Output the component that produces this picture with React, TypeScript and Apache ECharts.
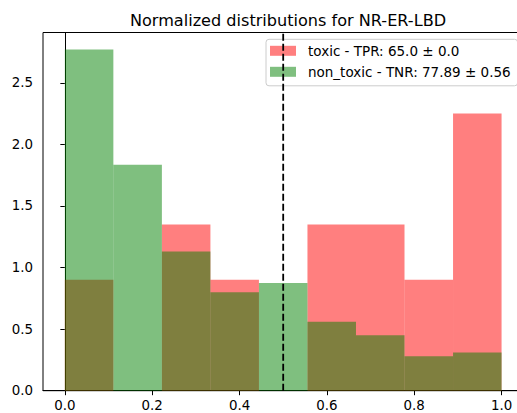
import React, { useEffect, useRef } from "react";
import * as echarts from "echarts";

// Histogram bin edges (9 equal bins on [0, 1])
const binEdges = [0, 1 / 9, 2 / 9, 3 / 9, 4 / 9, 5 / 9, 6 / 9, 7 / 9, 8 / 9, 1];

// Normalised densities per bin
const toxicDensity = [0.9, 0, 1.35, 0.9, 0, 1.35, 1.35, 0.9, 2.25];
const nonToxicDensity = [2.77, 1.835, 1.13, 0.8, 0.875, 0.56, 0.45, 0.28, 0.31];

const toxicName = "toxic - TPR: 65.0 ± 0.0";
const nonToxicName = "non_toxic - TNR: 77.89 ± 0.56";

const threshold = 0.5;
const xTicks = [0, 0.2, 0.4, 0.6, 0.8, 1.0];
const yTicks = [0, 0.5, 1.0, 1.5, 2.0, 2.5];

const RED = "rgba(255,0,0,0.5)";
const GREEN = "rgba(0,128,0,0.5)";
const FONT = "DejaVu Sans";

function binsData(values: number[]) {
  return values.map((v, i) => [binEdges[i], binEdges[i + 1], v]);
}

function histSeries(name: string, values: number[], color: string) {
  return {
    type: "custom",
    name,
    itemStyle: { color },
    encode: { x: [0, 1], y: 2 },
    data: binsData(values),
    renderItem: (params: any, api: any) => {
      const x0 = api.value(0);
      const x1 = api.value(1);
      const y = api.value(2);
      const p0 = api.coord([x0, y]);
      const p1 = api.coord([x1, 0]);
      return {
        type: "rect",
        shape: { x: p0[0], y: p0[1], width: p1[0] - p0[0], height: p1[1] - p0[1] },
        style: { fill: color },
      };
    },
  };
}

export default function App() {
  const ref = useRef<HTMLDivElement>(null);

  useEffect(() => {
    document.body.style.margin = "0";
    if (!ref.current) return;
    const chart = echarts.init(ref.current, null, { renderer: "svg" });
    const yMax = Math.max(...nonToxicDensity, ...toxicDensity) * 1.05;
    chart.setOption({
      animation: false,
      backgroundColor: "#fff",
      textStyle: { fontFamily: FONT },
      title: {
        text: "Normalized distributions for NR-ER-LBD",
        left: 283,
        textAlign: "center",
        top: 7,
        textStyle: { fontFamily: FONT, fontSize: 16.1, fontWeight: "normal", color: "#000" },
      },
      grid: {
        left: 43,
        top: 32.5,
        width: 480.4,
        height: 358.2,
        outerBoundsMode: "none",
        containLabel: false,
        show: true,
        borderColor: "#000",
        borderWidth: 1,
        backgroundColor: "transparent",
      },
      legend: {
        orient: "vertical",
        left: 266,
        top: 39.3,
        data: [toxicName, nonToxicName],
        icon: "rect",
        itemWidth: 26,
        itemHeight: 10,
        itemGap: 6,
        padding: [4, 7, 6.5, 4],
        backgroundColor: "rgba(255,255,255,0.8)",
        borderColor: "#ccc",
        borderWidth: 1,
        borderRadius: 3,
        textStyle: {
          fontFamily: FONT,
          fontSize: 13.5,
          color: "#000",
          lineHeight: 15,
          padding: [0, 0, 0, 7],
        },
      },
      xAxis: {
        type: "value",
        min: -0.05,
        max: 1.05,
        splitLine: { show: false },
        axisLine: { show: true, onZero: false, lineStyle: { color: "#000", width: 1 } },
        axisTick: {
          show: true,
          length: 4.5,
          lineStyle: { color: "#000", width: 1 },
          customValues: xTicks,
        },
        axisLabel: {
          fontFamily: FONT,
          fontSize: 13.4,
          color: "#000",
          margin: 8,
          customValues: xTicks,
          formatter: (v: number) => v.toFixed(1),
        },
      },
      yAxis: {
        type: "value",
        min: 0,
        max: yMax,
        splitLine: { show: false },
        axisLine: { show: true, lineStyle: { color: "#000", width: 1 } },
        axisTick: {
          show: true,
          length: 4.5,
          lineStyle: { color: "#000", width: 1 },
          customValues: yTicks,
        },
        axisLabel: {
          fontFamily: FONT,
          fontSize: 13.4,
          color: "#000",
          margin: 10,
          customValues: yTicks,
          formatter: (v: number) => v.toFixed(1),
        },
      },
      series: [
        histSeries(toxicName, toxicDensity, RED),
        histSeries(nonToxicName, nonToxicDensity, GREEN),
        {
          type: "line",
          name: "threshold",
          data: [
            [threshold, 0],
            [threshold, yMax],
          ],
          symbol: "none",
          lineStyle: { color: "#000", width: 1.8, type: [7, 3] },
          z: 5,
        },
      ],
    });
    return () => chart.dispose();
  }, []);

  return <div ref={ref} style={{ width: 517, height: 413 }} />;
}
